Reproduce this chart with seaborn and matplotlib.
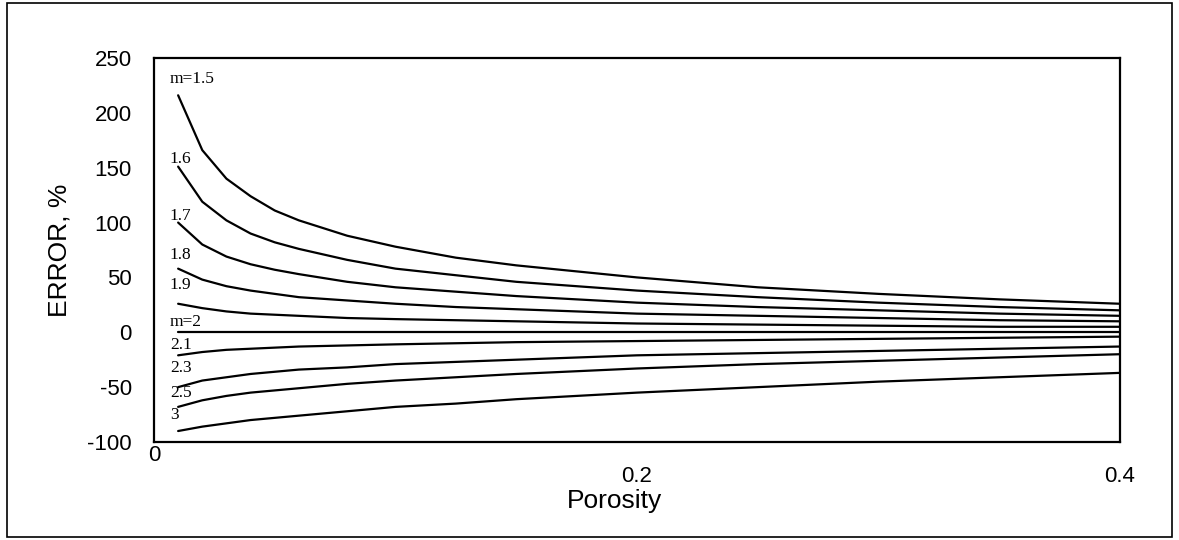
import matplotlib
matplotlib.use("Agg")
import matplotlib.pyplot as plt
from matplotlib.patches import Rectangle
import pandas as pd
import seaborn as sns

# Porosity sample points shared by every curve
porosity = [0.01, 0.02, 0.03, 0.04, 0.05, 0.06, 0.08, 0.10, 0.125, 0.15,
            0.20, 0.25, 0.30, 0.35, 0.40]

# Error (%) for each cementation exponent m
err_m15 = [216, 166, 140, 124, 111, 102, 88, 78, 68, 61, 50, 41, 35, 30, 26]
err_m16 = [151, 119, 102, 90, 82, 76, 66, 58, 52, 46, 38, 32, 27, 23, 20]
err_m17 = [100, 80, 69, 62, 57, 53, 46, 41, 37, 33, 27, 23, 20, 17, 15]
err_m18 = [58, 48, 42, 38, 35, 32, 29, 26, 23, 21, 17, 15, 13, 11, 10]
err_m19 = [26, 22, 19, 17, 16, 15, 13, 12, 11, 10, 8, 7, 6, 5, 5]
err_m20 = [0, 0, 0, 0, 0, 0, 0, 0, 0, 0, 0, 0, 0, 0, 0]
err_m21 = [-21, -18, -16, -15, -14, -13, -12, -11, -10, -9, -8, -7, -6, -5, -4]
err_m23 = [-50, -44, -41, -38, -36, -34, -32, -29, -27, -25, -21, -19, -17, -15, -13]
err_m25 = [-68, -62, -58, -55, -53, -51, -47, -44, -41, -38, -33, -29, -26, -23, -20]
err_m30 = [-90, -86, -83, -80, -78, -76, -72, -68, -65, -61, -55, -50, -45, -41, -37]

m_values = ["1.5", "1.6", "1.7", "1.8", "1.9", "2", "2.1", "2.3", "2.5", "3"]
series = [err_m15, err_m16, err_m17, err_m18, err_m19,
          err_m20, err_m21, err_m23, err_m25, err_m30]

# Curve labels written at the left end of each line
curve_labels = ["m=1.5", "1.6", "1.7", "1.8", "1.9", "m=2", "2.1", "2.3", "2.5", "3"]
label_y = [231, 158, 106, 70, 43, 9, -12, -33, -55, -75]

y_ticks = [-100, -50, 0, 50, 100, 150, 200, 250]
x_ticks = [0, 0.2, 0.4]
x_ticklabels = ["", "0.2", "0.4"]

rows = []
for m, vals in zip(m_values, series):
    for p, v in zip(porosity, vals):
        rows.append({"Porosity": p, "Error": v, "m": m})
df = pd.DataFrame(rows)

sns.set_theme(style="white")
plt.rcParams["font.family"] = ["Liberation Sans", "DejaVu Sans"]

fig = plt.figure(figsize=(11.79, 5.40), dpi=100)
ax = fig.add_axes([0.1306, 0.1815, 0.8194, 0.7111])

sns.lineplot(data=df, x="Porosity", y="Error", hue="m", hue_order=m_values,
             palette=["black"] * len(m_values), linewidth=1.6,
             legend=False, ax=ax, sort=True)

ax.set_xlim(0, 0.4)
ax.set_ylim(-100, 250)
ax.set_yticks(y_ticks)
ax.set_yticklabels([str(t) for t in y_ticks])
ax.set_xticks(x_ticks)
ax.set_xticklabels(x_ticklabels)
ax.tick_params(axis="both", length=0, labelsize=16, colors="black")
ax.tick_params(axis="y", pad=16)
ax.tick_params(axis="x", pad=17)

# The origin label sits just under the corner
ax.text(0, -103, "0", ha="center", va="top", fontsize=16, color="black")

for spine in ax.spines.values():
    spine.set_visible(True)
    spine.set_color("black")
    spine.set_linewidth(1.6)

ax.set_xlabel("Porosity", fontsize=19, color="black", va="top")
ax.xaxis.set_label_coords(0.477, -0.122)
ax.set_ylabel("ERROR, %", fontsize=19, color="black")
ax.yaxis.set_label_coords(-0.085, 0.5)

for text, yv in zip(curve_labels, label_y):
    ax.text(0.0066, yv, text, ha="left", va="center", fontsize=12.5,
            family=["Liberation Serif", "DejaVu Serif"], color="black")

# Thin frame around the whole figure
fig.patches.append(Rectangle((0.006, 0.006), 0.988, 0.988, transform=fig.transFigure,
                             fill=False, edgecolor="black", linewidth=1.2))

fig.savefig("out.png", dpi=100)
